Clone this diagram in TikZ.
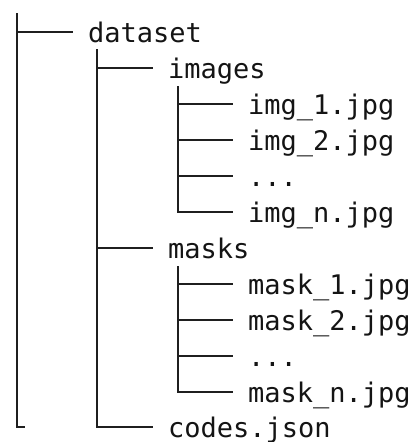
\documentclass[tikz,border=0pt]{standalone}
\usepackage{fontspec}
\newfontfamily\codefont{DejaVu Sans Mono}
\begin{document}
\begin{tikzpicture}[x=1pt,y=-1pt,
  tree/.style={draw=black!88,line width=1.5pt},
  entry/.style={anchor=west,inner sep=0pt,outer xsep=15pt,outer ysep=0pt,
    text height=20pt,text depth=0pt,font=\codefont\fontsize{27}{30}\selectfont,text=black!92}]
\useasboundingbox (0,0) rectangle (413,442);
% nodes
\node[entry] (dataset) at (73,32) {dataset};
\node[entry] (images) at (153,68) {images};
\node[entry] (img1) at (233,104) {img\_1.jpg};
\node[entry] (img2) at (233,140) {img\_2.jpg};
\node[entry] (imgd) at (233,176) {...};
\node[entry] (imgn) at (233,212) {img\_n.jpg};
\node[entry] (masks) at (153,248) {masks};
\node[entry] (mask1) at (233,284) {mask\_1.jpg};
\node[entry] (mask2) at (233,320) {mask\_2.jpg};
\node[entry] (maskd) at (233,356) {...};
\node[entry] (maskn) at (233,392) {mask\_n.jpg};
\node[entry] (codes) at (153,427) {codes.json};
% trunk coordinates
\coordinate (r0) at (17,13);
\coordinate (rend) at (17,427);
\coordinate (rfoot) at (25,427);
\coordinate (d0) at (97,49);
\coordinate (i0) at (178,86);
\coordinate (m0) at (178,266);
% connectors
\draw[tree] (r0) -- (rend) -- (rfoot);
\draw[tree] (dataset.west -| r0) -- (dataset.west);
\draw[tree] (d0) |- (codes.west);
\draw[tree] (images.west -| d0) -- (images.west);
\draw[tree] (masks.west -| d0) -- (masks.west);
\draw[tree] (i0) |- (imgn.west);
\draw[tree] (img1.west -| i0) -- (img1.west);
\draw[tree] (img2.west -| i0) -- (img2.west);
\draw[tree] (imgd.west -| i0) -- (imgd.west);
\draw[tree] (m0) |- (maskn.west);
\draw[tree] (mask1.west -| m0) -- (mask1.west);
\draw[tree] (mask2.west -| m0) -- (mask2.west);
\draw[tree] (maskd.west -| m0) -- (maskd.west);
\end{tikzpicture}
\end{document}
